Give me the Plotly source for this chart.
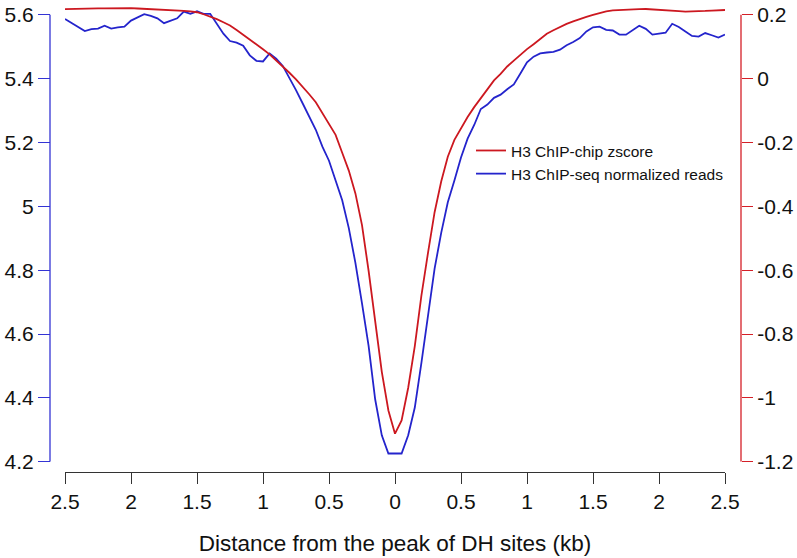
import plotly.graph_objects as go

# Distance from peak (kb), 50 bp bins from -2.5 to 2.5
distance_kb = [round(-2.5 + 0.05 * i, 2) for i in range(101)]

# H3 ChIP-seq normalized reads (left axis)
chipseq_reads = [
    5.587, 5.575, 5.562, 5.549, 5.555, 5.557, 5.566, 5.557, 5.561, 5.563,
    5.582, 5.591, 5.602, 5.597, 5.589, 5.574, 5.581, 5.589, 5.610, 5.603,
    5.611, 5.603, 5.603, 5.572, 5.541, 5.518, 5.513, 5.503, 5.473, 5.456,
    5.454, 5.479, 5.463, 5.440, 5.404, 5.364, 5.323, 5.283, 5.240, 5.187,
    5.143, 5.081, 5.019, 4.932, 4.823, 4.696, 4.563, 4.395, 4.283, 4.226,
    4.226, 4.226, 4.283, 4.370, 4.510, 4.659, 4.805, 4.917, 5.013, 5.081,
    5.153, 5.212, 5.255, 5.305, 5.319, 5.340, 5.350, 5.367, 5.382, 5.416,
    5.451, 5.469, 5.479, 5.482, 5.484, 5.491, 5.505, 5.515, 5.527, 5.548,
    5.561, 5.563, 5.553, 5.551, 5.538, 5.538, 5.552, 5.566, 5.556, 5.538,
    5.541, 5.544, 5.572, 5.562, 5.548, 5.534, 5.532, 5.543, 5.536, 5.529,
    5.538,
]

# H3 ChIP-chip zscore (right axis)
chipchip_zscore = [
    0.2180, 0.2180, 0.2190, 0.2196, 0.2199, 0.2202, 0.2205, 0.2208, 0.2214, 0.2214,
    0.2208, 0.2199, 0.2189, 0.2183, 0.2177, 0.2168, 0.2158, 0.2152, 0.2127, 0.2106,
    0.2081, 0.2019, 0.1953, 0.1866, 0.1767, 0.1665, 0.1522, 0.1379, 0.1233, 0.1078,
    0.0922, 0.0761, 0.0578, 0.0388, 0.0186, -0.0022, -0.0239, -0.0488, -0.0736, -0.1093,
    -0.1450, -0.1761, -0.2320, -0.2879, -0.3593, -0.4587, -0.6016, -0.7631, -0.9183, -1.0394,
    -1.1118, -1.0705, -0.9680, -0.8376, -0.6792, -0.5456, -0.4183, -0.3220, -0.2444, -0.1916,
    -0.1543, -0.1202, -0.0891, -0.0612, -0.0332, -0.0053, 0.0149, 0.0382, 0.0568, 0.0755,
    0.0925, 0.1081, 0.1252, 0.1407, 0.1516, 0.1624, 0.1717, 0.1795, 0.1873, 0.1935,
    0.1997, 0.2059, 0.2106, 0.2137, 0.2152, 0.2165, 0.2174, 0.2180, 0.2183, 0.2174,
    0.2161, 0.2146, 0.2130, 0.2115, 0.2102, 0.2102, 0.2112, 0.2121, 0.2134, 0.2143,
    0.2152,
]

x_tick_vals = [-2.5, -2.0, -1.5, -1.0, -0.5, 0.0, 0.5, 1.0, 1.5, 2.0, 2.5]
x_tick_text = ["2.5", "2", "1.5", "1", "0.5", "0", "0.5", "1", "1.5", "2", "2.5"]
left_tick_vals = [4.2, 4.4, 4.6, 4.8, 5.0, 5.2, 5.4, 5.6]
left_tick_text = ["4.2", "4.4", "4.6", "4.8", "5", "5.2", "5.4", "5.6"]
right_tick_vals = [-1.2, -1.0, -0.8, -0.6, -0.4, -0.2, 0.0, 0.2]
right_tick_text = ["-1.2", "-1", "-0.8", "-0.6", "-0.4", "-0.2", "0", "0.2"]

BLUE = "#2424cc"
RED = "#cc1820"
BLUE_AX = "#3434d4"
RED_AX = "#d42028"
FONT = "Liberation Sans, Arial, sans-serif"

W, H = 797, 558
ML, MR, MT, MB = 50, 56, 3, 86
pw = W - ML - MR
ph = H - MT - MB
px_per_unit = 322.0
y_bottom_px = 461.7  # pixel of lowest tick
ydom0 = (H - MB - y_bottom_px) / ph
span_units = (y_bottom_px - MT) / px_per_unit

fig = go.Figure()
fig.add_trace(go.Scatter(
    x=distance_kb, y=chipchip_zscore, mode="lines", name="H3 ChIP-chip zscore",
    line=dict(color=RED, width=1.8), yaxis="y2",
))
fig.add_trace(go.Scatter(
    x=distance_kb, y=chipseq_reads, mode="lines", name="H3 ChIP-seq normalized reads",
    line=dict(color=BLUE, width=1.8), yaxis="y",
))

fig.update_layout(
    width=W, height=H,
    margin=dict(l=ML, r=MR, t=MT, b=MB),
    paper_bgcolor="white", plot_bgcolor="white",
    font=dict(family=FONT, color="#111111"),
    showlegend=True,
    legend=dict(
        x=(471 - ML) / pw, y=(H - MB - 131) / ph, xanchor="left", yanchor="top",
        bgcolor="rgba(0,0,0,0)", font=dict(size=15.5, family=FONT, color="#111111"),
        tracegroupgap=0,
    ),
    xaxis=dict(
        domain=[15 / pw, 675 / pw], range=[-2.5, 2.5],
        anchor="free", position=0,
        showline=True, linecolor="#333333", linewidth=1.3,
        ticks="outside", ticklen=11, tickwidth=1.3, tickcolor="#333333",
        tickvals=x_tick_vals, ticktext=x_tick_text,
        tickfont=dict(size=21, family=FONT, color="#111111"),
        ticklabeloverflow="allow",
        showgrid=False, zeroline=False,
        title=dict(text="Distance from the peak of DH sites (kb)",
                   font=dict(size=22.5, family=FONT, color="#111111"), standoff=22),
    ),
    yaxis=dict(
        domain=[ydom0, 1], range=[4.2, 4.2 + span_units],
        anchor="free", position=0,
        showline=False,
        ticks="outside", ticklen=12, tickwidth=1.3, tickcolor=BLUE_AX,
        tickvals=left_tick_vals, ticktext=left_tick_text,
        tickfont=dict(size=21, family=FONT, color="#111111"),
        ticklabeloverflow="allow",
        showgrid=False, zeroline=False,
    ),
    yaxis2=dict(
        overlaying="y", side="right", range=[-1.2, -1.2 + span_units],
        anchor="free", position=1,
        showline=False,
        ticks="outside", ticklen=11, tickwidth=1.3, tickcolor=RED_AX,
        tickvals=right_tick_vals, ticktext=right_tick_text,
        tickfont=dict(size=21, family=FONT, color="#111111"),
        ticklabeloverflow="allow",
        showgrid=False, zeroline=False,
    ),
    shapes=[
        dict(type="line", xref="paper", yref="y", x0=0, x1=0, y0=4.2, y1=5.6,
             line=dict(color=BLUE_AX, width=1.3)),
        dict(type="line", xref="paper", yref="y2", x0=1, x1=1, y0=-1.2, y1=0.2,
             line=dict(color=RED_AX, width=1.3)),
    ],
)

fig.write_html(
    "out.html",
    config={"displayModeBar": False},
    post_script="document.body.style.margin='0';document.body.style.padding='0';",
)
